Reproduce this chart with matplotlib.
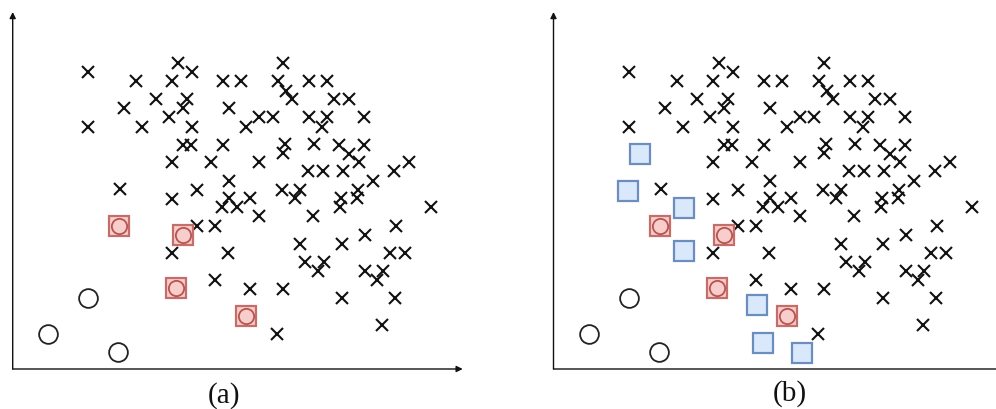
import matplotlib
matplotlib.use("Agg")
import matplotlib.pyplot as plt

# Unlabelled sample points (crosses), shared by both panels
cross_x = [75, 165, 179, 123, 159, 210, 228, 143, 174, 170, 111, 216, 156, 75, 129,
           179, 170, 178, 210, 159, 198, 216, 107, 184, 159, 216, 209, 224, 237, 184,
           202, 159, 215, 202, 237, 270, 265, 296, 314, 273, 279, 321, 336, 246, 260,
           233, 296, 314, 309, 351, 272, 270, 301, 326, 351, 336, 346, 246, 295, 310,
           330, 381, 396, 360, 269, 287, 282, 246, 300, 328, 327, 344, 345, 418, 383,
           352, 287, 329, 377, 392, 292, 311, 305, 352, 370, 364, 270, 329, 382, 369,
           264]
cross_y = [297, 306, 297, 288, 288, 288, 288, 270, 270, 261, 261, 261, 252, 242, 242,
           242, 224, 224, 224, 207, 207, 188, 180, 179, 170, 171, 162, 162, 171, 143,
           143, 116, 116, 89, 80, 306, 288, 288, 288, 278, 270, 270, 270, 252, 252,
           242, 252, 252, 242, 252, 225, 216, 225, 224, 224, 215, 207, 207, 198, 198,
           198, 198, 207, 188, 179, 179, 171, 153, 153, 171, 162, 171, 179, 162, 143,
           134, 125, 125, 116, 116, 107, 107, 98, 98, 98, 89, 80, 71, 71, 44,
           35]

# Open circles (labelled class)
circle_x = [75, 35, 105]
circle_y = [71, 35, 17]

# Selected points (circle inside a square)
sel_x = [106, 170, 163, 233]
sel_y = [143, 134, 81, 53]

# Extra points added in panel (b)
extra_x = [86, 74, 130, 130, 203, 209, 248]
extra_y = [215, 178, 161, 118, 64, 26, 16]

panel_labels = ["(a)", "(b)"]

W, H = 996, 410
fig = plt.figure(figsize=(W / 100, H / 100), dpi=100)
fig.patch.set_facecolor("white")

AX_W, AX_H = 450, 357
origins = [(12.7, 370), (553.5, 370)]
label_pos = [(224, 396), (790, 394)]


def draw_panel(ax, with_extra):
    ax.set_xlim(0, AX_W)
    ax.set_ylim(0, AX_H)
    for s in ax.spines.values():
        s.set_visible(False)
    ax.set_xticks([])
    ax.set_yticks([])
    ax.patch.set_alpha(0)
    # arrowed axes
    arrow = dict(arrowstyle="-|>", lw=1.0, color="#111111", mutation_scale=9,
                 shrinkA=0, shrinkB=0)
    ax.annotate("", xy=(1, 0), xytext=(0, 0), xycoords="axes fraction",
                arrowprops=arrow, annotation_clip=False)
    ax.annotate("", xy=(0, 1), xytext=(0, 0), xycoords="axes fraction",
                arrowprops=arrow, annotation_clip=False)

    ax.plot(cross_x, cross_y, linestyle="none", marker="x", markersize=8.6,
            mew=1.5, color="#111111", clip_on=False)
    ax.plot(circle_x, circle_y, linestyle="none", marker="o", markersize=13.5,
            mfc="white", mec="#222222", mew=1.3, clip_on=False)
    if with_extra:
        ax.plot(extra_x, extra_y, linestyle="none", marker="s", markersize=14.4,
                mfc="#dae8fc", mec="#6c8ebf", mew=1.6, clip_on=False)
    ax.plot(sel_x, sel_y, linestyle="none", marker="s", markersize=14.4,
            mfc="#f8cecc", mec="#c46e6a", mew=1.6, clip_on=False)
    ax.plot(sel_x, sel_y, linestyle="none", marker="o", markersize=11,
            mfc="#f8cecc", mec="#b85450", mew=1.3, clip_on=False)


for i, (ox, oy) in enumerate(origins):
    ax = fig.add_axes([ox / W, (H - oy) / H, AX_W / W, AX_H / H])
    draw_panel(ax, with_extra=(i == 1))
    lx, ly = label_pos[i]
    fig.text(lx / W, 1 - ly / H, panel_labels[i], ha="center", va="center",
             family=["Liberation Serif", "DejaVu Serif"], fontsize=21, color="#111111")

fig.savefig("out.png", dpi=100, facecolor="white")
